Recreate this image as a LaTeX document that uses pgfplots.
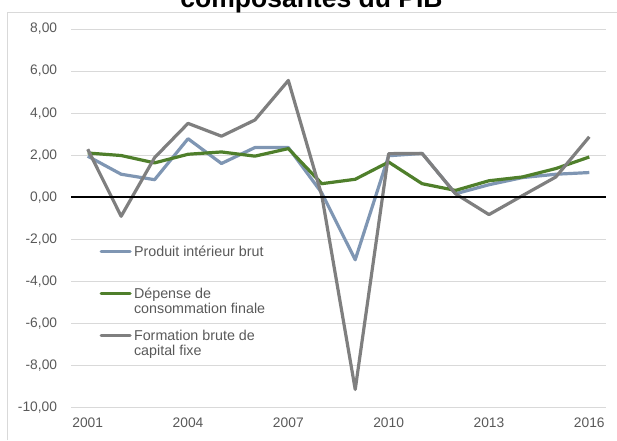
\documentclass[border=0pt]{standalone}
\usepackage{pgfplots}
\usepackage{pgfplotstable}
\pgfplotsset{compat=1.18}
\usepackage{fontspec}
\setmainfont{Liberation Sans}
\definecolor{pibc}{HTML}{7F96B3}
\definecolor{depc}{HTML}{4F7F2B}
\definecolor{fbcc}{HTML}{7F7F7F}
\definecolor{gridc}{HTML}{D9D9D9}
\definecolor{txtc}{HTML}{595959}
\pgfplotstableread{
year pib dep fbcf
2001 1.95 2.10 2.28
2002 1.09 1.98 -0.91
2003 0.83 1.63 1.88
2004 2.78 2.04 3.51
2005 1.60 2.15 2.90
2006 2.36 1.95 3.67
2007 2.36 2.31 5.55
2008 0.20 0.64 0.08
2009 -2.98 0.85 -9.15
2010 1.97 1.67 2.07
2011 2.08 0.64 2.08
2012 0.16 0.32 0.16
2013 0.59 0.78 -0.83
2014 0.93 0.96 0.07
2015 1.09 1.36 0.96
2016 1.17 1.91 2.87
}\data
\begin{document}
\begin{tikzpicture}
\useasboundingbox (0,0) rectangle (617pt,440pt);
\draw[gridc, line width=1pt] (7.5pt,0pt) -- (7.5pt,427pt) -- (617pt,427pt);
\node[anchor=base, font=\bfseries\fontsize{26.5}{30}\selectfont] at (311.5pt,432pt) {composantes du PIB};
\begin{axis}[
  at={(71pt,32.7pt)}, anchor=south west,
  scale only axis, width=535pt, height=378.3pt,
  xmin=2000.5, xmax=2016.5, ymin=-10, ymax=8,
  axis line style={draw=none},
  major tick length=0pt,
  xtick={2001,2004,2007,2010,2013,2016},
  xticklabels={2001,2004,2007,2010,2013,2016},
  ytick={-10,-8,-6,-4,-2,0,2,4,6,8},
  yticklabels={{-10,00},{-8,00},{-6,00},{-4,00},{-2,00},{0,00},{2,00},{4,00},{6,00},{8,00}},
  ymajorgrids, grid style={gridc, line width=1pt},
  ticklabel style={font=\fontsize{13.8}{15}\selectfont, text=txtc},
  yticklabel style={anchor=east, inner sep=0pt, xshift=-13.7pt},
  xticklabel style={anchor=north, inner sep=0pt, yshift=-10.7pt},
  legend style={draw=none, fill=none, inner sep=0pt,
    at={(axis description cs:0.053,0.428)}, anchor=north west,
    font=\fontsize{14.3}{15.5}\selectfont, text=txtc,
    cells={anchor=base west}, nodes={inner sep=0pt, text depth=},
    row sep=11pt, column sep=2.3pt},
  legend image code/.code={\draw[#1, line cap=round] (0pt,4.9pt) -- (29pt,4.9pt);},
  clip=false,
]
\addplot[pibc, line width=3.2pt, line join=round] table[x=year, y=pib] {\data};
\addlegendentry{\begin{tabular}[t]{@{}l@{}}Produit intérieur brut\\ \mbox{}\end{tabular}}
\addplot[depc, line width=3.2pt, line join=round] table[x=year, y=dep] {\data};
\addlegendentry{\begin{tabular}[t]{@{}l@{}}Dépense de\\consommation finale\end{tabular}}
\addplot[fbcc, line width=3.2pt, line join=round] table[x=year, y=fbcf] {\data};
\addlegendentry{\begin{tabular}[t]{@{}l@{}}Formation brute de\\capital fixe\end{tabular}}
\draw[black, line width=1.6pt] (axis cs:2000.5,0) -- (axis cs:2016.5,0);
\end{axis}
\end{tikzpicture}
\end{document}
